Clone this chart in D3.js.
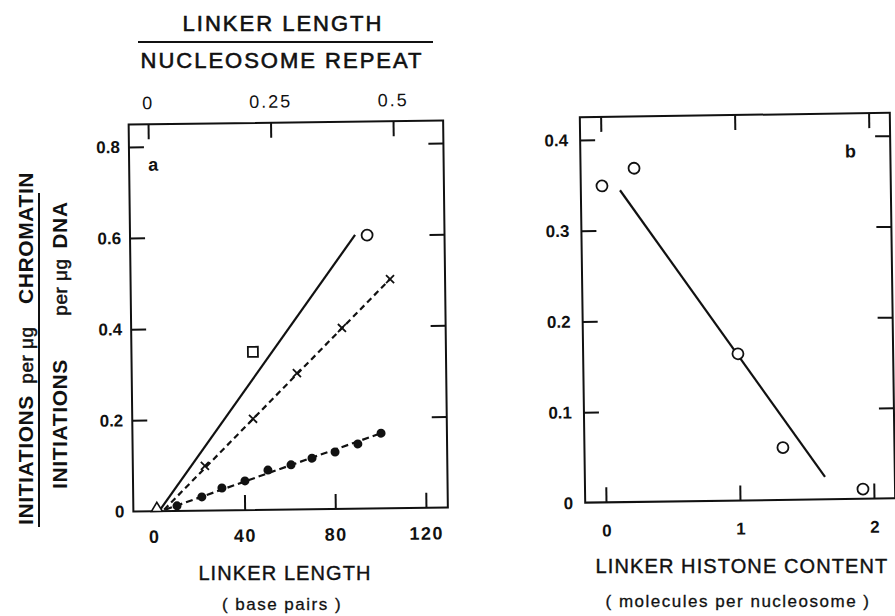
<!DOCTYPE html>
<meta charset="utf-8">
<script src="https://d3js.org/d3.v7.min.js"></script>
<style>
  body { margin: 0; background: #fff; }
  text { font-family: "Liberation Sans", Arial, Helvetica, sans-serif; fill: #111; }
</style>
<div id="chart"></div>
<script>

  // ---- panel a : initiations vs linker length (base pairs) ----
  var circleA   = [{x: 95.5, y: 0.600}];
  var squareA   = [{x: 44.5, y: 0.347}];
  var triangleA = [{x: 1.3,  y: 0.006}];
  var crossA = [
    {x: 22.7, y: 0.098}, {x: 44.2, y: 0.200}, {x: 63.8, y: 0.299},
    {x: 83.9, y: 0.397}, {x: 105.4, y: 0.503}
  ];
  var dotA = [
    {x: 10.2, y: 0.011}, {x: 21.2, y: 0.030}, {x: 30.1, y: 0.049}, {x: 40.3, y: 0.064},
    {x: 50.5, y: 0.087}, {x: 60.7, y: 0.098}, {x: 70.0, y: 0.112}, {x: 80.2, y: 0.125},
    {x: 90.3, y: 0.142}, {x: 100.6, y: 0.165}
  ];
  // fitted lines (end points)
  var solidLineA = [{x: 2.6, y: 0.002}, {x: 90.2, y: 0.601}];
  var crossLineA = [{x: 4.5, y: 0.003}, {x: 105.4, y: 0.503}];
  var dotLineA   = [{x: 5.0, y: 0.003}, {x: 100.6, y: 0.165}];

  var xTicksA  = [40, 80, 120];
  var xLabelsA = [0, 40, 80, 120];
  var yTicksA  = [0.2, 0.4, 0.6, 0.8];
  var yLabelsA = [0, 0.2, 0.4, 0.6, 0.8];
  var topTicksA  = [0, 0.25, 0.5];

  // ---- panel b : initiations vs linker histone content ----
  var circleB = [
    {x: 0.003, y: 0.349}, {x: 0.244, y: 0.368}, {x: 1.000, y: 0.162},
    {x: 1.326, y: 0.058}, {x: 1.919, y: 0.011}
  ];
  var lineB = [{x: 0.137, y: 0.344}, {x: 1.637, y: 0.025}];

  var xTicksB  = [0, 1, 2];
  var yTicksB  = [0.1, 0.2, 0.3, 0.4];
  var yLabelsB = [0, 0.1, 0.2, 0.3, 0.4];

  var svg = d3.select("#chart").append("svg")
    .attr("width", 895)
    .attr("height", 616);

  var tickLen = 15;
  var fmtY = function(d) { return d === 0 ? "0" : d3.format(".1f")(d); };

  function frame(g, f) {
    g.append("rect")
      .attr("x", f.left).attr("y", f.top)
      .attr("width", f.right - f.left).attr("height", f.bottom - f.top)
      .attr("fill", "none").attr("stroke", "#111").attr("stroke-width", 2);
  }

  // inward ticks with d3 axes, no domain line
  function ticks(g, axis, tx, ty) {
    var a = g.append("g").attr("transform", "translate(" + tx + "," + ty + ")")
      .call(axis.tickSizeOuter(0).tickFormat(""));
    a.select(".domain").remove();
    a.selectAll("line").attr("stroke", "#111").attr("stroke-width", 2);
  }

  function labels(g, axis, tx, ty, size, spacing, weight) {
    var a = g.append("g").attr("transform", "translate(" + tx + "," + ty + ")")
      .call(axis.tickSize(0));
    a.select(".domain").remove();
    a.selectAll("text")
      .style("font-size", size + "px")
      .style("letter-spacing", spacing + "px")
      .style("font-weight", weight)
      .attr("fill", "#111");
    return a;
  }

  function lineOf(x, y) {
    return d3.line().x(function(d) { return x(d.x); }).y(function(d) { return y(d.y); });
  }

  // ===================== panel a =====================
  var fa = {left: 131, right: 445.5, top: 122.5, bottom: 509.5};
  var ga = svg.append("g").attr("transform", "rotate(-0.7, 288, 316)");

  var xA = d3.scaleLinear().domain([0, 120]).range([151.6, 423.6]);
  var yA = d3.scaleLinear().domain([0, 0.8]).range([509.5, 145]);
  var topA = d3.scaleLinear().domain([0, 0.5]).range([150.4, 395.4]);

  frame(ga, fa);
  ticks(ga, d3.axisBottom(xA).tickValues(xTicksA).tickSizeInner(-tickLen), 0, fa.bottom);
  ticks(ga, d3.axisTop(topA).tickValues(topTicksA).tickSizeInner(-tickLen), 0, fa.top);
  ticks(ga, d3.axisLeft(yA).tickValues(yTicksA).tickSizeInner(-tickLen), fa.left, 0);
  ticks(ga, d3.axisRight(yA).tickValues(yTicksA).tickSizeInner(-tickLen), fa.right, 0);

  labels(ga, d3.axisBottom(xA).tickValues(xLabelsA).tickPadding(19), 0, fa.bottom, 18, 1.5, "bold");
  labels(ga, d3.axisTop(topA).tickValues(topTicksA).tickPadding(15)
    .tickFormat(function(d) { return String(d); }), 0, fa.top, 18, 2, "normal");
  labels(ga, d3.axisLeft(yA).tickValues(yLabelsA).tickPadding(9).tickFormat(fmtY),
    fa.left, 0, 17, 0, "bold");

  ga.append("path").datum(solidLineA)
    .attr("d", lineOf(xA, yA)).attr("fill", "none")
    .attr("stroke", "#111").attr("stroke-width", 2.2);
  ga.append("path").datum(crossLineA)
    .attr("d", lineOf(xA, yA)).attr("fill", "none")
    .attr("stroke", "#111").attr("stroke-width", 2.2).attr("stroke-dasharray", "6,4");
  ga.append("path").datum(dotLineA)
    .attr("d", lineOf(xA, yA)).attr("fill", "none")
    .attr("stroke", "#111").attr("stroke-width", 2.2).attr("stroke-dasharray", "7,4");

  ga.selectAll(".dotA").data(dotA).enter().append("circle")
    .attr("cx", function(d) { return xA(d.x); })
    .attr("cy", function(d) { return yA(d.y); })
    .attr("r", 4.5).attr("fill", "#111");

  ga.selectAll(".crossA").data(crossA).enter().append("path")
    .attr("transform", function(d) { return "translate(" + xA(d.x) + "," + yA(d.y) + ")"; })
    .attr("d", "M-4,-4L4,4M4,-4L-4,4")
    .attr("stroke", "#111").attr("stroke-width", 1.8).attr("fill", "none");

  ga.selectAll(".circleA").data(circleA).enter().append("circle")
    .attr("cx", function(d) { return xA(d.x); })
    .attr("cy", function(d) { return yA(d.y); })
    .attr("r", 5.5).attr("fill", "#fff").attr("stroke", "#111").attr("stroke-width", 1.8);

  ga.selectAll(".squareA").data(squareA).enter().append("rect")
    .attr("x", function(d) { return xA(d.x) - 5; })
    .attr("y", function(d) { return yA(d.y) - 5; })
    .attr("width", 10).attr("height", 10)
    .attr("fill", "#fff").attr("stroke", "#111").attr("stroke-width", 1.8);

  ga.selectAll(".triA").data(triangleA).enter().append("path")
    .attr("transform", function(d) { return "translate(" + xA(d.x) + "," + yA(d.y) + ")"; })
    .attr("d", "M-5.5,3L5.5,3L0,-6Z")
    .attr("fill", "#fff").attr("stroke", "#111").attr("stroke-width", 1.6);

  ga.append("text").attr("x", 150).attr("y", 169)
    .style("font-size", "18px").style("font-weight", "bold").text("a");

  // titles of panel a
  svg.append("text").attr("x", 283).attr("y", 31).attr("text-anchor", "middle")
    .style("font-size", "22px").style("letter-spacing", "2px")
    .attr("stroke", "#111").attr("stroke-width", 0.6)
    .text("LINKER LENGTH");
  svg.append("line").attr("x1", 138).attr("x2", 433).attr("y1", 42).attr("y2", 42)
    .attr("stroke", "#111").attr("stroke-width", 2);
  svg.append("text").attr("x", 282).attr("y", 68).attr("text-anchor", "middle")
    .style("font-size", "22px").style("letter-spacing", "2px")
    .attr("stroke", "#111").attr("stroke-width", 0.6)
    .text("NUCLEOSOME REPEAT");

  svg.append("text").attr("x", 285).attr("y", 580).attr("text-anchor", "middle")
    .style("font-size", "20px").style("letter-spacing", "1.1px")
    .attr("stroke", "#111").attr("stroke-width", 0.4)
    .text("LINKER LENGTH");
  svg.append("text").attr("x", 282).attr("y", 610).attr("text-anchor", "middle")
    .style("font-size", "17px").style("letter-spacing", "1.5px")
    .attr("stroke", "#111").attr("stroke-width", 0.3)
    .text("( base pairs )");

  // y label (fraction)
  var yWords = [
    {t: "INITIATIONS", x: 33, y: 460, big: true},
    {t: "per \u03bcg", x: 33, y: 355, big: false},
    {t: "CHROMATIN", x: 33, y: 238, big: true},
    {t: "INITIATIONS", x: 67, y: 424, big: true},
    {t: "per \u03bcg", x: 67, y: 287, big: false},
    {t: "DNA", x: 67, y: 225, big: true}
  ];
  svg.selectAll(".ylab").data(yWords).enter().append("text")
    .attr("transform", function(d) { return "translate(" + d.x + "," + d.y + ") rotate(-90)"; })
    .attr("text-anchor", "middle")
    .style("font-size", function(d) { return d.big ? "21px" : "19px"; })
    .style("font-weight", function(d) { return d.big ? "bold" : "normal"; })
    .style("letter-spacing", function(d) { return d.big ? "0.6px" : "0.5px"; })
    .attr("stroke", "#111").attr("stroke-width", function(d) { return d.big ? 0 : 0.5; })
    .text(function(d) { return d.t; });
  svg.append("line").attr("x1", 39).attr("x2", 39).attr("y1", 193).attr("y2", 527)
    .attr("stroke", "#111").attr("stroke-width", 2);

  // ===================== panel b =====================
  var fb = {left: 582.5, right: 892.5, top: 115, bottom: 500.5};
  var gb = svg.append("g").attr("transform", "rotate(-0.8, 737, 308)");

  var xB = d3.scaleLinear().domain([0, 2]).range([603.3, 871.3]);
  var yB = d3.scaleLinear().domain([0, 0.4]).range([500.8, 137.8]);

  frame(gb, fb);
  ticks(gb, d3.axisBottom(xB).tickValues(xTicksB).tickSizeInner(-tickLen), 0, fb.bottom);
  ticks(gb, d3.axisTop(xB).tickValues(xTicksB).tickSizeInner(-tickLen), 0, fb.top);
  ticks(gb, d3.axisLeft(yB).tickValues(yTicksB).tickSizeInner(-tickLen), fb.left, 0);
  ticks(gb, d3.axisRight(yB).tickValues(yTicksB).tickSizeInner(-tickLen), fb.right, 0);

  labels(gb, d3.axisBottom(xB).tickValues(xTicksB).tickPadding(22).tickFormat(d3.format("d")),
    0, fb.bottom, 17, 0, "bold");
  labels(gb, d3.axisLeft(yB).tickValues(yLabelsB).tickPadding(12).tickFormat(fmtY),
    fb.left, 0, 17, 0, "bold");

  gb.append("path").datum(lineB)
    .attr("d", lineOf(xB, yB)).attr("fill", "none")
    .attr("stroke", "#111").attr("stroke-width", 2.2);

  gb.selectAll(".circleB").data(circleB).enter().append("circle")
    .attr("cx", function(d) { return xB(d.x); })
    .attr("cy", function(d) { return yB(d.y); })
    .attr("r", 5.5).attr("fill", "#fff").attr("stroke", "#111").attr("stroke-width", 1.8);

  gb.append("text").attr("x", 847).attr("y", 159)
    .style("font-size", "18px").style("font-weight", "bold").text("b");

  svg.append("text").attr("x", 742).attr("y", 573).attr("text-anchor", "middle")
    .style("font-size", "20px").style("letter-spacing", "1.1px")
    .attr("stroke", "#111").attr("stroke-width", 0.4)
    .text("LINKER HISTONE CONTENT");
  svg.append("text").attr("x", 738).attr("y", 607).attr("text-anchor", "middle")
    .style("font-size", "17px").style("letter-spacing", "1.5px")
    .attr("stroke", "#111").attr("stroke-width", 0.3)
    .text("( molecules per nucleosome )");

</script>
